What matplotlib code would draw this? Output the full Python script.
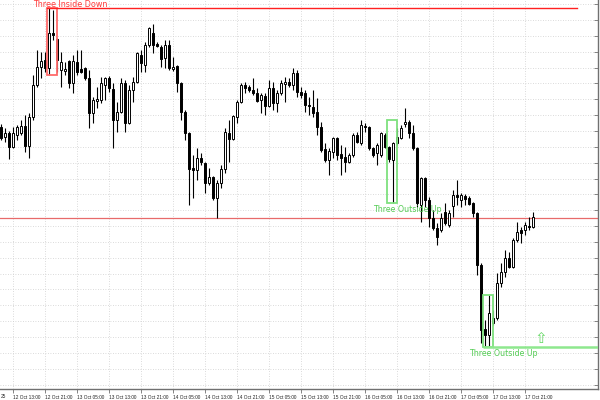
import matplotlib
matplotlib.use("Agg")
import matplotlib.pyplot as plt
from matplotlib.patches import Rectangle
from matplotlib import font_manager
import numpy as np

# ---- data (price units are arbitrary) ----
opens = [273,263,267,253,265,267,274,254,283,315,333,340,332,367,361,330,329,339,317,338,
         331,332,322,287,299,300,315,322,311,280,288,317,277,310,318,345,335,355,367,356,
         353,342,355,331,334,317,288,267,232,230,242,237,217,223,202,217,231,267,261,283,
         298,315,313,310,307,300,304,294,312,297,307,316,318,315,327,308,307,295,293,288,
         273,251,240,248,262,246,243,238,245,265,257,274,273,252,247,245,265,253,240,257,
         262,276,278,267,252,195,222,200,182,172,170,188,175,194,205,200,204,202,197,187,
         135,71,65,77,82,117,128,142,133,160,170,170,174,173]
highs = [276,272,269,273,275,280,285,287,325,350,348,348,392,390,362,348,338,340,345,350,
         350,333,330,303,313,323,323,324,317,298,322,320,315,323,348,350,358,373,376,358,
         355,360,360,343,335,318,290,268,245,252,247,238,232,224,220,235,272,280,285,300,
         317,318,315,322,312,307,307,320,318,310,320,323,322,332,330,313,310,303,310,302,
         278,257,252,263,263,255,253,247,267,268,280,277,274,253,257,268,267,254,258,272,
         275,292,280,275,253,223,223,203,190,177,187,197,190,210,220,207,206,204,198,188,
         137,80,105,90,127,137,150,148,162,178,173,178,183,188]
lows = [260,258,241,252,260,265,248,242,280,313,322,328,325,360,328,313,325,312,307,325,
        327,320,272,277,292,297,300,308,252,268,287,268,276,298,317,328,328,353,347,353,
        333,332,330,329,308,280,260,195,202,220,235,207,215,200,182,212,227,238,260,277,
        297,307,308,305,298,287,285,293,290,288,305,298,313,310,303,302,288,285,283,265,
        248,238,225,242,240,225,228,237,243,257,255,268,250,243,235,243,252,238,197,255,
        261,273,262,250,193,178,193,173,170,155,168,175,173,183,195,193,195,195,183,125,
        57,53,53,75,80,113,123,132,132,158,157,165,170,172]
closes = [262,267,253,267,273,274,254,283,315,333,339,332,367,365,340,338,331,317,339,328,
          328,322,287,300,301,317,322,312,280,288,317,277,310,318,347,337,355,372,355,354,
          341,355,332,333,317,288,267,231,230,242,238,217,223,202,217,231,268,261,284,298,
          315,312,310,307,299,305,294,312,297,307,317,318,315,327,308,305,295,294,287,273,
          250,240,249,262,245,242,238,245,265,258,275,273,252,245,255,267,253,241,257,263,
          272,278,267,252,197,222,200,182,172,163,182,177,187,205,203,205,201,196,187,135,
          70,65,87,82,117,128,142,133,160,168,167,175,173,183]

time_labels = ["12 Oct 13:00", "12 Oct 21:00", "13 Oct 05:00", "13 Oct 13:00", "13 Oct 21:00",
               "14 Oct 05:00", "14 Oct 13:00", "14 Oct 21:00", "15 Oct 05:00", "15 Oct 13:00",
               "15 Oct 21:00", "16 Oct 05:00", "16 Oct 13:00", "16 Oct 21:00", "17 Oct 05:00",
               "17 Oct 13:00", "17 Oct 21:00"]
first_label = "25"

pattern_names = ["Three Inside Down", "Three Outside Up", "Three Outside Up"]
pattern_first_bar = [12, 97, 121]
pattern_last_bar = [13, 98, 122]
pattern_top = [392, 280, 105]
pattern_bottom = [325, 197, 53]
pattern_bullish = [False, True, True]
pattern_has_line = [True, False, True]

level_line = 182

# ---- fonts ----
try:
    font_manager.findfont("Liberation Sans Narrow", fallback_to_default=False)
    tick_family = ["Liberation Sans Narrow", "DejaVu Sans"]
    tick_size = 4.1
except Exception:
    tick_family = ["Liberation Sans", "DejaVu Sans"]
    tick_size = 3.4

# ---- figure ----
W, H = 600, 400
fig = plt.figure(figsize=(6, 4), dpi=100)
ax = fig.add_axes([0, 11 / H, 598 / W, 389 / H])
n = len(opens)
x = np.arange(n)
px = 4.0  # pixels per bar
ax.set_xlim(-1.3 / px, -1.3 / px + 598 / px)
ax.set_ylim(11, 400)

# grid
yt = np.arange(395.85, 11, -15.85)
xt = np.arange(3, 3 + 8 * len(time_labels), 8)
for v in yt:
    ax.axhline(v, color="#cfcfcf", lw=0.6, ls=(0, (1, 2)), zorder=0)
for v in xt:
    ax.axvline(v, color="#cfcfcf", lw=0.6, ls=(0, (1, 2)), zorder=0)

# level line
ax.axhline(level_line, color="#e86a6a", lw=0.9, zorder=1)

# candles
O = np.array(opens, float); C = np.array(closes, float)
Hh = np.array(highs, float); Ll = np.array(lows, float)
ax.vlines(x, Ll, Hh, color="black", lw=0.8, zorder=2)
bot = np.minimum(O, C)
hgt = np.maximum(np.abs(C - O), 0.8)
cols = ["white" if c > o else "black" for o, c in zip(O, C)]
ax.bar(x, hgt, bottom=bot, width=0.55, color=cols, edgecolor="black", lw=0.7, zorder=3)

# patterns
for name, a, b, top, bt, bull, has_line in zip(pattern_names, pattern_first_bar, pattern_last_bar,
                                               pattern_top, pattern_bottom, pattern_bullish,
                                               pattern_has_line):
    left = a - 0.55
    right = b + 0.95
    if bull:
        ec = "#7ee07e"; tc = "#55cc55"; lc = "#8ee88e"
    else:
        ec = "#ff6a6a"; tc = "#ff3b3b"; lc = "#ff2020"
    ax.add_patch(Rectangle((left, bt), right - left, top - bt, fill=False,
                           edgecolor=ec, lw=1.3, zorder=4))
    if bull:
        if has_line:
            ax.plot([left, left + 132.5], [bt, bt], color=lc, lw=1.8, zorder=4,
                    solid_capstyle="butt")
        ax.text(left - 3.6, bt - 1.5, name, color=tc, fontsize=5.7, ha="left", va="top",
                family="DejaVu Sans", zorder=5)
    else:
        if has_line:
            ax.plot([left, left + 132.5], [top, top], color=lc, lw=1.0, zorder=4)
        ax.text(left - 3.6, top + 4, name, color=tc, fontsize=5.8, ha="left", va="center",
                family="DejaVu Sans", zorder=5)

# up arrow after last bullish pattern
ax.text(n + 0.9, pattern_bottom[-1] + 1, "\u21e7", color="#66d866", fontsize=11,
        ha="center", va="bottom", family="DejaVu Sans", zorder=5)

# axes styling
for s in ["top", "left"]:
    ax.spines[s].set_visible(False)
ax.spines["bottom"].set_color("#707070")
ax.spines["right"].set_color("#707070")
ax.spines["bottom"].set_linewidth(1.0)
ax.spines["right"].set_linewidth(1.0)
ax.set_xticks(xt)
ax.set_xticklabels(time_labels, fontsize=tick_size, ha="left",
                   family=tick_family, color="#222222")
ax.tick_params(axis="x", length=3, width=0.6, color="#707070", pad=1.5)
ax.yaxis.tick_right()
ax.set_yticks(yt)
ax.set_yticklabels([])
ax.tick_params(axis="y", length=3, width=0.6, color="#707070", direction="in")
ax.text(0.001, -0.012, first_label, transform=ax.transAxes,
        fontsize=tick_size, ha="left", va="top", color="#222222",
        family=tick_family, clip_on=False)

fig.savefig("out.png", dpi=100)
